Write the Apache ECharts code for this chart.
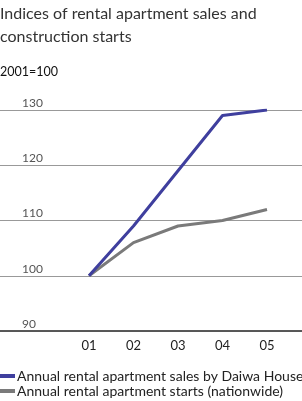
<!DOCTYPE html>
<html><head><meta charset="utf-8">
<script src="https://cdn.jsdelivr.net/npm/echarts@6/dist/echarts.min.js"></script>
<style>html,body{margin:0;padding:0;background:#fff}#c{width:302px;height:401px}</style>
</head><body><div id="c"></div>
<script>
var categories = ['01','02','03','04','05'];
var daiwaSales = [100, 109, 119, 129, 130];
var nationStarts = [100, 106, 109, 110, 112];
var yTicks = [90, 100, 110, 120, 130];
var seriesNames = ['Annual rental apartment sales by Daiwa House', 'Annual rental apartment starts (nationwide)'];

var chart = echarts.init(document.getElementById('c'), null, {renderer:'canvas'});
var font = 'Lato, "Open Sans", sans-serif';
var legendText = {fontSize:14, color:'#222', padding:[0,0,0,-3]};
chart.setOption({
  animation:false,
  textStyle:{fontFamily:font},
  title:[
    {text:'Indices of rental apartment sales and\nconstruction starts', left:0, top:2, padding:0,
     textStyle:{fontSize:16, fontWeight:'normal', color:'#333', lineHeight:23, fontFamily:font}},
    {text:'2001=100', left:0, top:65, padding:0, textStyle:{fontSize:12.5, fontWeight:'normal', color:'#111', fontFamily:font}}
  ],
  legend:[
    {left:0, top:369, padding:0, itemWidth:15, itemHeight:4, icon:'rect', textStyle:legendText, data:[seriesNames[0]]},
    {left:0, top:384, padding:0, itemWidth:15, itemHeight:4, icon:'rect', textStyle:legendText, data:[seriesNames[1]]}
  ],
  grid:[
    {left:0, right:0, top:110, bottom:70},
    {left:66.75, right:12.75, top:110, bottom:70}
  ],
  xAxis:[
    {gridIndex:0, type:'value', min:0, max:1, show:false},
    {gridIndex:1, type:'category', data:categories, boundaryGap:true,
     axisLine:{show:false}, axisTick:{show:false},
     axisLabel:{fontSize:13, color:'#222', margin:8}}
  ],
  yAxis:[
    {gridIndex:0, type:'value', min:yTicks[0], max:yTicks[yTicks.length-1], interval:10,
     axisLine:{show:false}, axisTick:{show:false},
     splitLine:{lineStyle:{color:'#999', width:1}},
     axisLabel:{inside:true, margin:22, verticalAlign:'bottom', color:'#555', fontSize:12, padding:[0,0,1,0]}},
    {gridIndex:1, type:'value', min:yTicks[0], max:yTicks[yTicks.length-1], interval:10, show:false}
  ],
  series:[
    {type:'line', name:'axisline', xAxisIndex:0, yAxisIndex:0, data:[[0,90],[1,90]], symbol:'none',
     lineStyle:{color:'#222', width:1.5}, silent:true},
    {type:'line', name:seriesNames[1], xAxisIndex:1, yAxisIndex:1, data:nationStarts, symbol:'none',
     itemStyle:{color:'#7a7a7a'}, lineStyle:{color:'#7a7a7a', width:3}},
    {type:'line', name:seriesNames[0], xAxisIndex:1, yAxisIndex:1, data:daiwaSales, symbol:'none',
     itemStyle:{color:'#3f3f9e'}, lineStyle:{color:'#3f3f9e', width:3}}
  ]
});
</script></body></html>
